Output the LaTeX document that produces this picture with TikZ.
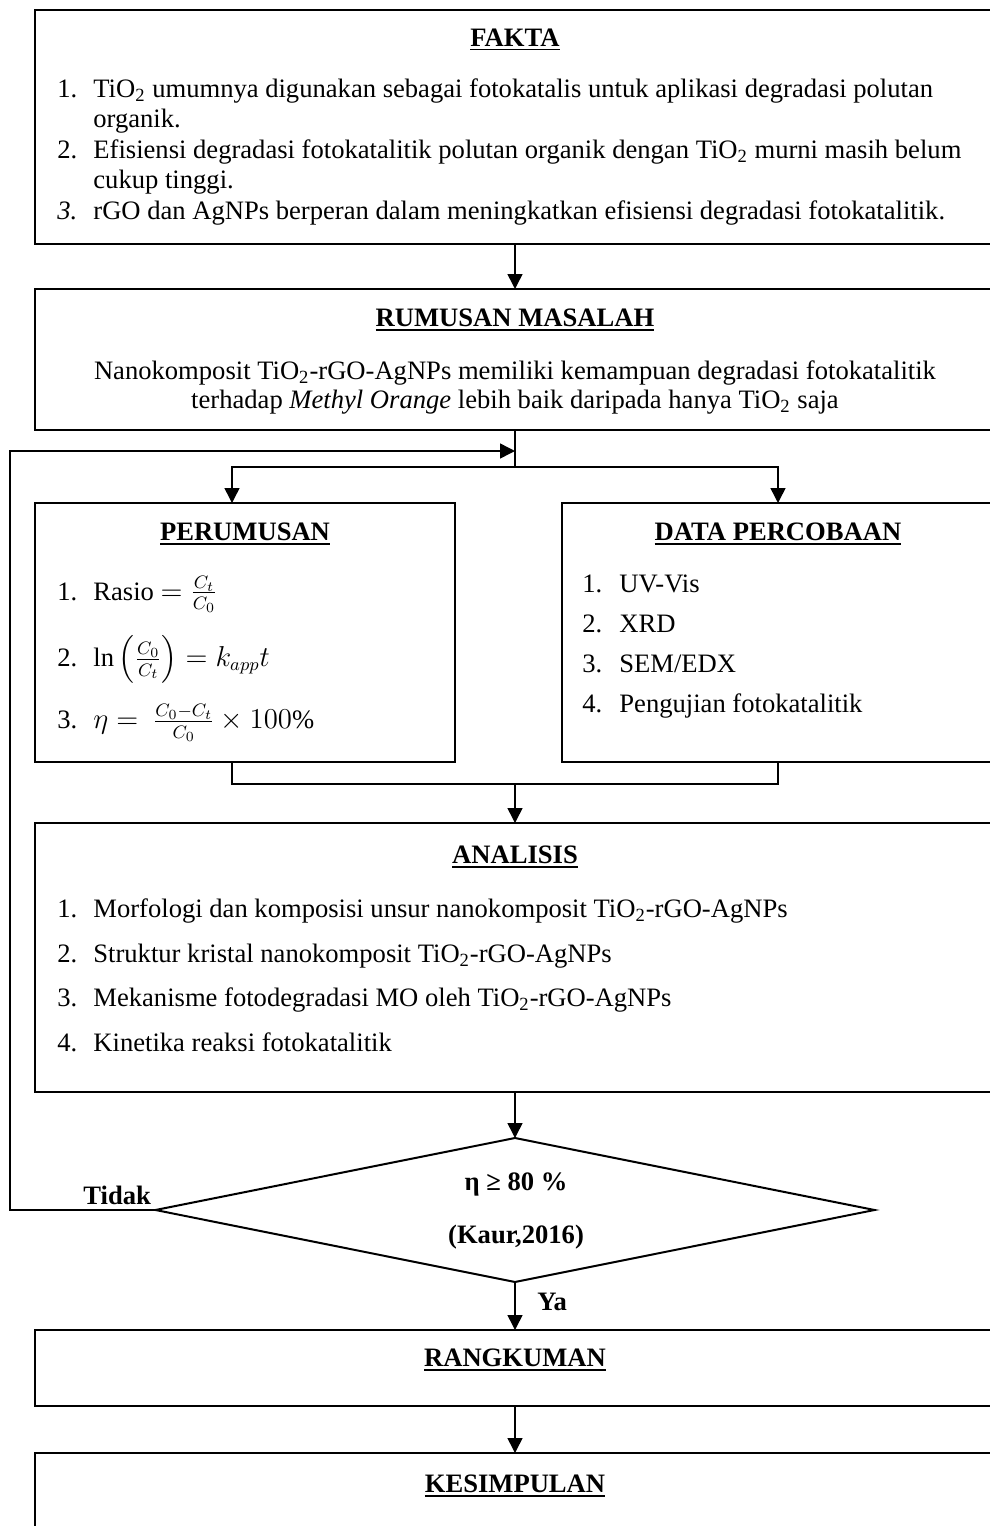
\documentclass[tikz,border=0pt]{standalone}
\usepackage{
	amsmath,			% Math Environments
	amssymb,			% Extended Symbols
	fontspec,			% Fonts
	tikz
}
\setmainfont{Liberation Serif}
\usetikzlibrary{arrows.meta,shapes.geometric}

\begin{document}
\begin{tikzpicture}[x=0.5pt,y=-0.5pt,
		every node/.style={font=\fontsize{13.3}{15}\selectfont},
		kotak/.style={draw,line width=1pt,anchor=north west,inner sep=0pt,outer sep=0pt},
		judul/.style={anchor=base,inner sep=0pt,font=\fontsize{13.3}{15}\selectfont\bfseries},
		isi/.style={anchor=base west,inner sep=0pt},
		tengah/.style={anchor=base,inner sep=0pt},
		garis/.style={line width=0.75pt},
		panah/.style={garis,-{Triangle[length=7.5pt,width=7.5pt]}}]
	\useasboundingbox (0,0) rectangle (990,1526);
	\clip (0,0) rectangle (990,1526);
	\node[kotak,minimum width=480pt,minimum height=117pt] (fakta) at (35,10) {};
	\node[kotak,minimum width=480pt,minimum height=70.5pt] (rumusan) at (35,289) {};
	\node[kotak,minimum width=210pt,minimum height=129.5pt] (perumusan) at (35,503) {};
	\node[kotak,minimum width=216pt,minimum height=129.5pt] (data) at (562,503) {};
	\node[kotak,minimum width=480pt,minimum height=134.5pt] (analisis) at (35,823) {};
	\node[draw,diamond,line width=1pt,inner sep=0pt,outer sep=0pt,minimum width=359.5pt,minimum height=72pt] (cek) at (515,1210) {};
	\node[kotak,minimum width=480pt,minimum height=38pt] (rangkuman) at (35,1330) {};
	\node[kotak,minimum width=480pt,minimum height=100pt] (kesimpulan) at (35,1453) {};
	\node[judul] (judul-fakta) at (515,46) {\underline{FAKTA}};
	\node[judul] (judul-rumusan) at (515,326) {\underline{RUMUSAN MASALAH}};
	\node[judul] (judul-perumusan) at (245,540) {\underline{PERUMUSAN}};
	\node[judul] (judul-data) at (778,540) {\underline{DATA PERCOBAAN}};
	\node[judul] (judul-analisis) at (515,863) {\underline{ANALISIS}};
	\node[judul] (judul-rangkuman) at (515,1366) {\underline{RANGKUMAN}};
	\node[judul] (judul-kesimpulan) at (515,1492) {\underline{KESIMPULAN}};
	\foreach \n/\y in {1./97, 2./158, \textit{3.}/219}
		\node[isi] (no-fakta-\y) at (57,\y) {\n};
	\foreach \y/\txt in {97/{TiO\textsubscript{2} umumnya digunakan sebagai fotokatalis untuk aplikasi degradasi polutan},
		127.5/{organik.},
		158/{Efisiensi degradasi fotokatalitik polutan organik dengan TiO\textsubscript{2} murni masih belum},
		188.5/{cukup tinggi.},
		219/{rGO dan AgNPs berperan dalam meningkatkan efisiensi degradasi fotokatalitik.}}
		\node[isi] (fakta-\y) at (93,\y) {\txt};
	\node[tengah] (rumusan-1) at (515,379) {Nanokomposit TiO\textsubscript{2}-rGO-AgNPs memiliki kemampuan degradasi fotokatalitik};
	\node[tengah] (rumusan-2) at (515,408) {terhadap \textit{Methyl Orange} lebih baik daripada hanya TiO\textsubscript{2} saja};
	\foreach \n/\y/\txt in {1/600/{Rasio $= \frac{C_t}{C_0}$},
		2/666.5/{$\ln\left(\frac{C_0}{C_t}\right) = k_{app}t$},
		3/728.5/{$\eta =\ \frac{C_0-C_t}{C_0}\times 100\%$}}
	{
		\node[isi] (no-perumusan-\n) at (57,\y) {\n.};
		\node[isi] (perumusan-\n) at (93,\y) {\txt};
	}
	\foreach \n/\y/\txt in {1/592.7/{UV-Vis}, 2/632.7/{XRD}, 3/672.7/{SEM/EDX}, 4/712.7/{Pengujian fotokatalitik}}
	{
		\node[isi] (no-data-\n) at (582,\y) {\n.};
		\node[isi] (data-\n) at (619,\y) {\txt};
	}
	\foreach \n/\y/\txt in {1/917/{Morfologi dan komposisi unsur nanokomposit TiO\textsubscript{2}-rGO-AgNPs},
		2/962/{Struktur kristal nanokomposit TiO\textsubscript{2}-rGO-AgNPs},
		3/1006.5/{Mekanisme fotodegradasi MO oleh TiO\textsubscript{2}-rGO-AgNPs},
		4/1051/{Kinetika reaksi fotokatalitik}}
	{
		\node[isi] (no-analisis-\n) at (57,\y) {\n.};
		\node[isi] (analisis-\n) at (93,\y) {\txt};
	}
	\node[judul] (syarat) at (516,1190) {η ≥ 80 \%};
	\node[judul] (sumber) at (516,1243) {(Kaur,2016)};
	\node[judul,anchor=base west] (tidak) at (83,1204) {Tidak};
	\node[judul,anchor=base west] (ya) at (537,1310) {Ya};
	\coordinate (balik) at (515,451);
	\coordinate (kiri) at (10,451);
	\coordinate (pisah) at (515,467);
	\coordinate (gabung) at (515,784);
	\draw[panah] (fakta.south) -- (rumusan.north);
	\draw[garis] (rumusan.south) -- (pisah);
	\draw[panah] (pisah) -| ([xshift=-6.5pt]perumusan.north);
	\draw[panah] (pisah) -| (data.north);
	\draw[garis] ([xshift=-6.5pt]perumusan.south) |- (gabung) -| (data.south);
	\draw[panah] (gabung) -- (analisis.north);
	\draw[panah] (analisis.south) -- (cek.north);
	\draw[panah] (cek.south) -- (rangkuman.north);
	\draw[panah] (rangkuman.south) -- (kesimpulan.north);
	\draw[panah] (cek.west) -| (kiri) -- (balik);
\end{tikzpicture}
\end{document}
